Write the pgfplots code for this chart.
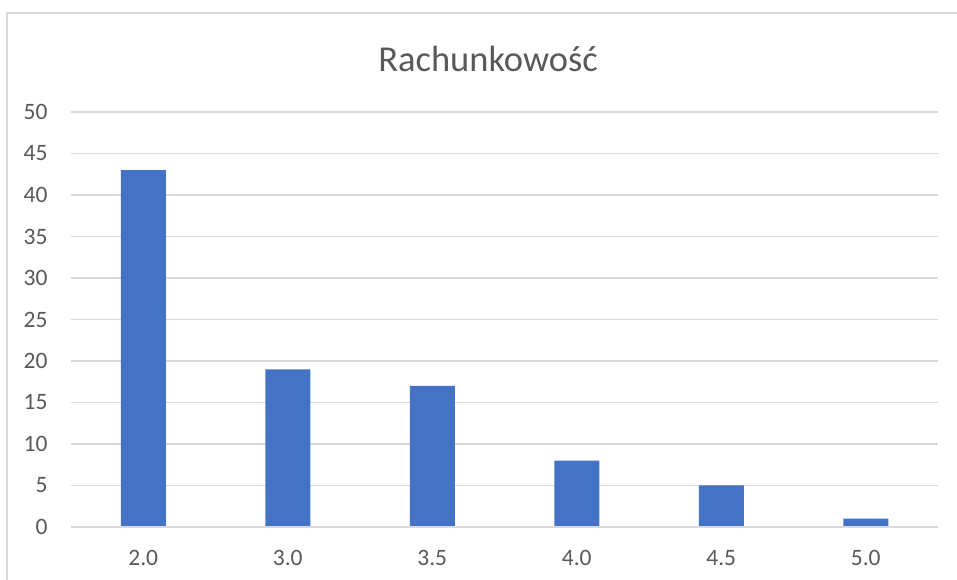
\documentclass[border=0pt]{standalone}
\usepackage{fontspec}
\setmainfont{Carlito}
\usepackage{pgfplots}
\pgfplotsset{compat=1.18}
\definecolor{barblue}{HTML}{4472C4}
\definecolor{gridgray}{HTML}{D9D9D9}
\definecolor{textgray}{HTML}{595959}
\definecolor{framegray}{HTML}{D9D9D9}

\begin{document}
\begin{tikzpicture}[x=1pt,y=1pt]
  % canvas in pixel units (1px = 1pt)
  \draw[framegray,line width=1.3pt] (7,0) -- (7,567) -- (957,567);
  \node[textgray,font=\fontsize{36.5}{42}\selectfont] at (488,521) {Rachunkowość};
  \begin{axis}[
    at={(71pt,53pt)}, anchor=south west,
    scale only axis,
    width=867pt, height=415pt,
    xmin=-0.5, xmax=5.5,
    ymin=0, ymax=50,
    ytick={0,5,...,50},
    xtick={0,1,2,3,4,5},
    xticklabels={2.0,3.0,3.5,4.0,4.5,5.0},
    axis line style={draw=none},
    axis x line*=bottom,
    axis y line*=left,
    major tick length=0pt,
    ymajorgrids,
    grid style={gridgray,line width=1.3pt},
    tick label style={textgray,font=\fontsize{23.5}{28}\selectfont},
    /pgf/number format/assume math mode=true,
    yticklabel style={xshift=-20pt},
    xticklabel style={yshift=-20pt},
    clip=false,
  ]
    \addplot[ybar, bar width=45pt, fill=barblue, draw=none]
      coordinates {(0,43) (1,19) (2,17) (3,8) (4,5) (5,1)};
    \draw[gridgray,line width=1.3pt] (axis cs:-0.5,0) -- (axis cs:5.5,0);
  \end{axis}
  \pgfresetboundingbox
  \path (0,0) rectangle (957,580);
\end{tikzpicture}
\end{document}
